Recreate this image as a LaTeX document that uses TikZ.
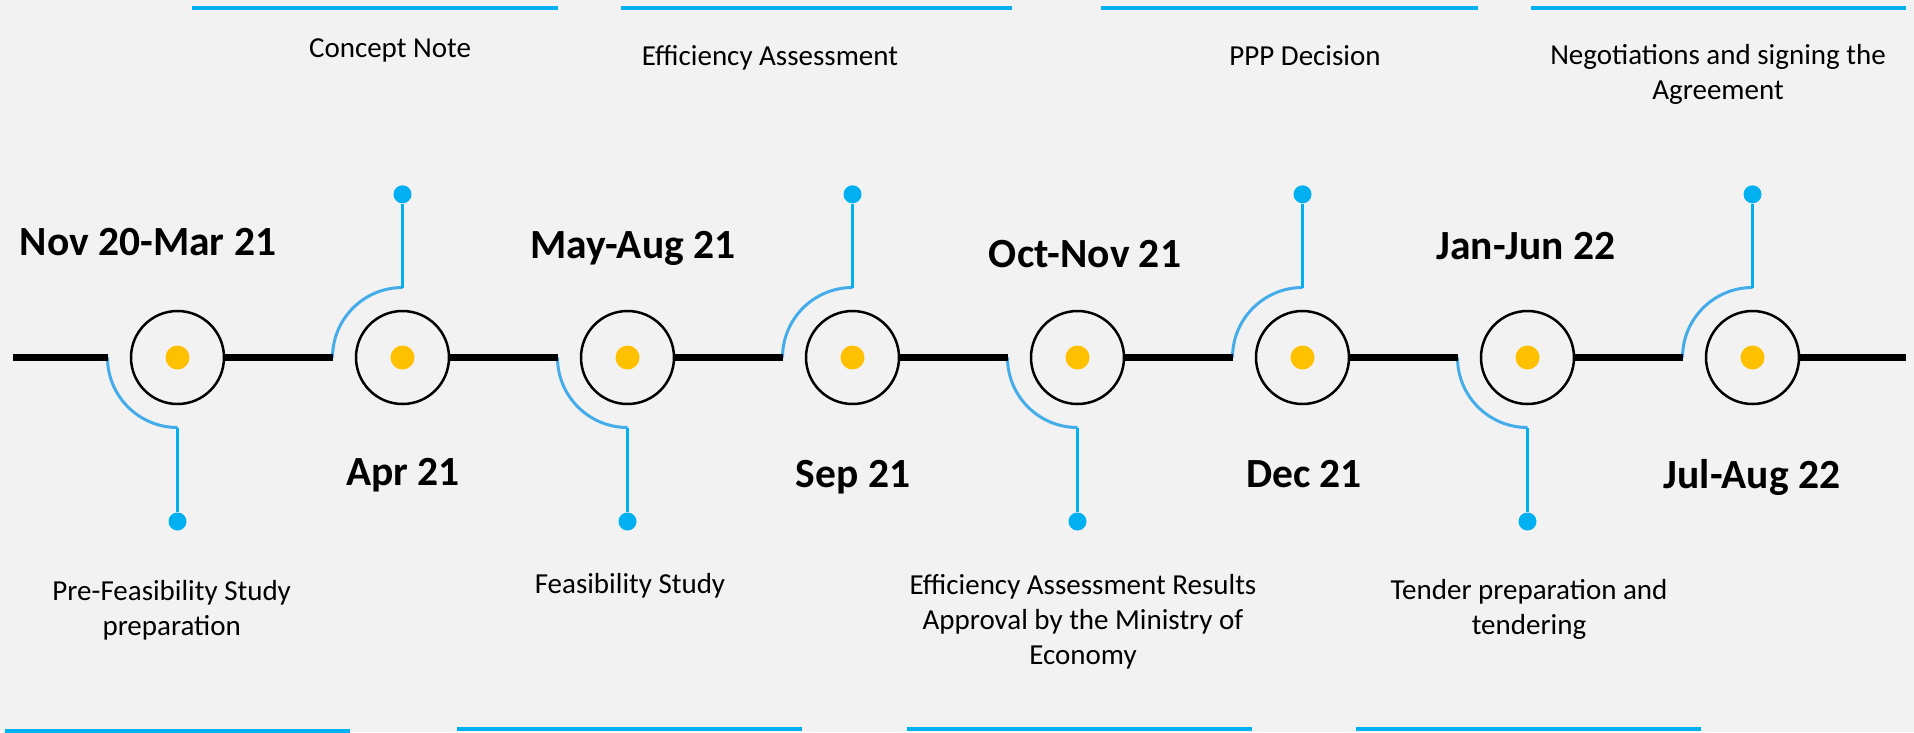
\documentclass[tikz,border=0pt]{standalone}
\usepackage{fontspec}
\setmainfont{Carlito}
\definecolor{bg}{HTML}{F2F2F2}
\definecolor{arcblue}{HTML}{45ACEA}
\definecolor{stemblue}{HTML}{00B0F0}
\definecolor{dotyellow}{HTML}{FFC000}
\begin{document}
\begin{tikzpicture}[x=1pt,y=-1pt,
  ring/.style={circle, draw=black, line width=2.5pt, minimum size=93pt, inner sep=0pt, fill=bg},
  hub/.style={circle, fill=dotyellow, minimum size=24pt, inner sep=0pt},
  pin/.style={circle, fill=stemblue, minimum size=18pt, inner sep=0pt},
  axis/.style={line width=7pt, black},
  arcline/.style={arcblue, line width=3pt},
  stem/.style={stemblue, line width=3pt},
  bar/.style={stemblue, line width=4pt},
  datelbl/.style={font=\bfseries\fontsize{41.5}{50}\selectfont, anchor=base, inner sep=0pt},
  desc/.style={font=\fontsize{29}{35}\selectfont, anchor=base, align=center, inner sep=0pt}]
\useasboundingbox (0,0) rectangle (1914,732);
\fill[bg] (0,0) rectangle (1914,732);

% bars top and bottom
\draw[bar] (192,7.7) -- (558,7.7);
\draw[bar] (621,7.7) -- (1012,7.7);
\draw[bar] (1101,7.7) -- (1478,7.7);
\draw[bar] (1531,7.7) -- (1906,7.7);
\draw[bar] (5,731) -- (350,731);
\draw[bar] (457,728.7) -- (802,728.7);
\draw[bar] (907,728.7) -- (1252,728.7);
\draw[bar] (1356,728.7) -- (1701,728.7);

% milestones
\foreach \i in {1,...,8} {
  \pgfmathsetmacro\cx{177.5+225*(\i-1)}
  \node[ring] (c\i) at (\cx,357.5) {};
  \node[hub] (h\i) at (c\i) {};
  \coordinate (a\i) at (\cx-70,357.5);
  \ifodd\i
    \coordinate (b\i) at (\cx,427.5);
    \node[pin] (p\i) at (\cx,521.5) {};
    \draw[arcline] (a\i) arc[start angle=180, end angle=270, radius=70pt];
  \else
    \coordinate (b\i) at (\cx,287.5);
    \node[pin] (p\i) at (\cx,194.3) {};
    \draw[arcline] (a\i) arc[start angle=180, end angle=90, radius=70pt];
  \fi
  \draw[stem] (b\i) -- (p\i);
}

% axis segments
\coordinate (s0) at (13,357.5);
\coordinate (s9) at (1906,357.5);
\draw[axis] (s0) -- (a1);
\foreach \i in {2,...,8} {
  \pgfmathtruncatemacro\j{\i-1}
  \draw[axis] (c\j.east) -- (a\i);
}
\draw[axis] (c8.east) -- (s9);

% dates
\node[datelbl] (d1) at (148,255) {Nov 20-Mar 21};
\node[datelbl] (d2) at (403,485) {Apr 21};
\node[datelbl] (d3) at (633,258) {May-Aug 21};
\node[datelbl] (d4) at (853,487) {Sep 21};
\node[datelbl] (d5) at (1085,267) {Oct-Nov 21};
\node[datelbl] (d6) at (1304,487) {Dec 21};
\node[datelbl] (d7) at (1526,259) {Jan-Jun 22};
\node[datelbl] (d8) at (1752,488) {Jul-Aug 22};

% descriptions (base = baseline of last line)
\node[desc] (t1) at (390,57.3) {Concept Note};
\node[desc] (t2) at (770,65) {Efficiency Assessment};
\node[desc] (t3) at (1305,65.5) {PPP Decision};
\node[desc] (t4) at (1718,99) {Negotiations and signing the\\Agreement};
\node[desc] (e1) at (171.7,635) {Pre-Feasibility Study\\preparation};
\node[desc] (e2) at (630,593.3) {Feasibility Study};
\node[desc] (e3) at (1083,664.5) {Efficiency Assessment Results\\Approval by the Ministry of\\Economy};
\node[desc] (e4) at (1529,634) {Tender preparation and\\tendering};
\end{tikzpicture}
\end{document}
